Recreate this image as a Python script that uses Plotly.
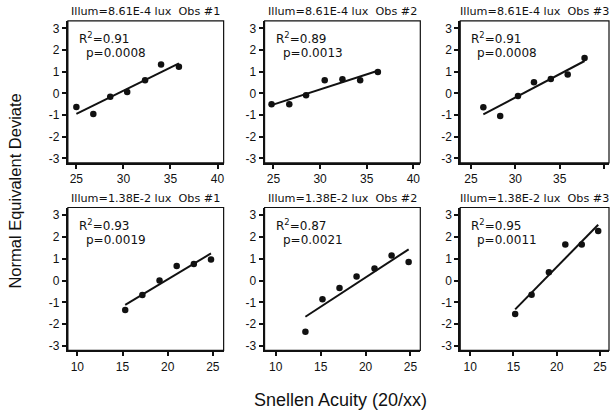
import numpy as np
import plotly.graph_objects as go

# ---------------- data ----------------
panel_titles = [
    "Illum=8.61E-4 lux  Obs #1", "Illum=8.61E-4 lux  Obs #2", "Illum=8.61E-4 lux  Obs #3",
    "Illum=1.38E-2 lux  Obs #1", "Illum=1.38E-2 lux  Obs #2", "Illum=1.38E-2 lux  Obs #3",
]
x1 = [25.0, 26.8, 28.6, 30.4, 32.3, 34.0, 35.9]
y1 = [-0.62, -0.95, -0.15, 0.07, 0.61, 1.34, 1.23]
x2 = [24.8, 26.7, 28.5, 30.5, 32.4, 34.3, 36.2]
y2 = [-0.50, -0.50, -0.08, 0.61, 0.65, 0.61, 0.99]
x3 = [26.4, 28.3, 30.3, 32.1, 34.0, 35.9, 37.8]
y3 = [-0.64, -1.04, -0.12, 0.52, 0.67, 0.87, 1.64]
x4 = [15.3, 17.2, 19.1, 21.0, 22.9, 24.8]
y4 = [-1.35, -0.66, 0.00, 0.67, 0.76, 0.97]
x5 = [13.3, 15.2, 17.1, 19.0, 21.0, 22.9, 24.8]
y5 = [-2.34, -0.85, -0.34, 0.19, 0.55, 1.15, 0.85]
x6 = [15.2, 17.1, 19.1, 21.0, 22.9, 24.8]
y6 = [-1.53, -0.65, 0.38, 1.65, 1.65, 2.27]
r2_vals = ["0.91", "0.89", "0.91", "0.93", "0.87", "0.95"]
p_vals = ["0.0008", "0.0013", "0.0008", "0.0019", "0.0021", "0.0011"]

y_ticks = [-3, -2, -1, 0, 1, 2, 3]
y_ticktext = ["-3", "-2", "-1", "0", "1", "2", "3"]
x_ticks_top = [25, 30, 35, 40]
x_ticks_bottom = [10, 15, 20, 25]
x_title = "Snellen Acuity (20/xx)"
y_title = "Normal Equivalent Deviate"

xs = [x1, x2, x3, x4, x5, x6]
ys = [y1, y2, y3, y4, y5, y6]

# ---------------- layout geometry ----------------
W, H = 611, 419
col_px = [(68, 224), (265, 421), (461, 610)]
row_px = [(21, 164), (209, 353)]
x_ranges = [[24.1, 40.65], [24.05, 40.75], [23.8, 40.55],
            [8.95, 26.2], [8.75, 26.1], [8.85, 26.05]]
y_range = [-3.2, 3.35]

FONT = "Liberation Sans, Arial, Helvetica, sans-serif"
WIDE = "DejaVu Sans, Verdana, sans-serif"
INK = "#111111"

fig = go.Figure()
layout = {}
annotations = []
shapes = []

for i in range(6):
    r, c = divmod(i, 3)
    n = i + 1
    xa = "x" if n == 1 else f"x{n}"
    ya = "y" if n == 1 else f"y{n}"
    xd = [col_px[c][0] / W, col_px[c][1] / W]
    yd = [1 - row_px[r][1] / H, 1 - row_px[r][0] / H]

    x = np.array(xs[i]); y = np.array(ys[i])
    fig.add_trace(go.Scatter(x=x, y=y, mode="markers", xaxis=xa, yaxis=ya,
                             marker=dict(color=INK, size=6.5), showlegend=False,
                             cliponaxis=False))
    slope, icpt = np.polyfit(x, y, 1)
    xl = np.array([x.min(), x.max()])
    fig.add_trace(go.Scatter(x=xl, y=slope * xl + icpt, mode="lines", xaxis=xa, yaxis=ya,
                             line=dict(color=INK, width=2), showlegend=False))

    layout["xaxis" if n == 1 else f"xaxis{n}"] = dict(
        domain=xd, anchor=ya, range=x_ranges[i],
        tickvals=x_ticks_top if r == 0 else x_ticks_bottom,
        showgrid=False, zeroline=False, showline=True, linecolor=INK, linewidth=2,
        ticks="outside", ticklen=4, tickwidth=1.5, tickcolor=INK,
        tickfont=dict(family=FONT, size=12, color=INK), fixedrange=True,
    )
    layout["yaxis" if n == 1 else f"yaxis{n}"] = dict(
        domain=yd, anchor=xa, range=y_range,
        tickvals=y_ticks, ticktext=y_ticktext,
        showgrid=False, zeroline=False, showline=True, linecolor=INK, linewidth=2,
        ticks="outside", ticklen=4, tickwidth=1.5, tickcolor=INK,
        tickfont=dict(family=FONT, size=12, color=INK), fixedrange=True,
    )
    # thin box around panel
    shapes.append(dict(type="rect", xref=f"{xa} domain", yref=f"{ya} domain",
                       x0=0, x1=1, y0=0, y1=1, line=dict(color=INK, width=1.2)))
    # panel title
    annotations.append(dict(text=panel_titles[i], xref=f"{xa} domain", yref=f"{ya} domain",
                            x=0.5, y=1, yshift=1, xanchor="center", yanchor="bottom",
                            showarrow=False, font=dict(family=WIDE, size=11.2, color=INK)))
    # statistics text
    annotations.append(dict(text="R<sup>2</sup>=" + r2_vals[i], xref=f"{xa} domain",
                            yref=f"{ya} domain", x=0.064, y=1, yshift=-17, xanchor="left",
                            yanchor="middle", showarrow=False, borderpad=0,
                            font=dict(family=WIDE, size=12, color=INK)))
    annotations.append(dict(text="p=" + p_vals[i], xref=f"{xa} domain",
                            yref=f"{ya} domain", x=0.109, y=1, yshift=-32, xanchor="left",
                            yanchor="middle", showarrow=False, borderpad=0,
                            font=dict(family=WIDE, size=12, color=INK)))

annotations.append(dict(text=x_title, xref="paper", yref="paper", x=341 / W, y=1 - 403 / H,
                        xanchor="center", yanchor="middle", showarrow=False,
                        font=dict(family=FONT, size=18, color=INK)))
annotations.append(dict(text=y_title, xref="paper", yref="paper", x=15 / W, y=1 - 192 / H,
                        xanchor="center", yanchor="middle", showarrow=False, textangle=-90,
                        font=dict(family=FONT, size=16.5, color=INK)))

fig.update_layout(
    width=W, height=H, margin=dict(l=0, r=0, t=0, b=0),
    paper_bgcolor="white", plot_bgcolor="white",
    annotations=annotations, shapes=shapes, **layout,
)

fig.write_html("out.html", config={"displayModeBar": False})
